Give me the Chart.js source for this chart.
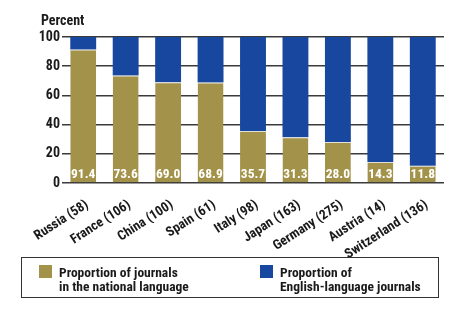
<!DOCTYPE html>
<html>
<head>
<meta charset="utf-8">
<script src="https://cdn.jsdelivr.net/npm/chart.js@4"></script>
<style>
  body { margin: 0; background: #fff; }
  #wrap { position: relative; width: 459px; height: 317px; font-family: Roboto, "DejaVu Sans Condensed", sans-serif; font-stretch: condensed; font-weight: bold; color: #1a1a1a; }
  #unit { position: absolute; left: 41px; top: 12px; font-size: 14px; }
  #legend { position: absolute; left: 21px; top: 257px; width: 416px; height: 39px; border: 1px solid #333; font-size: 13.5px; line-height: 14px; }
  .item { position: absolute; top: 7px; }
  .item .box { position: absolute; left: 0; top: 0; width: 13px; height: 13px; }
  .item .txt { position: absolute; left: 20px; top: 0; white-space: nowrap; }
</style>
</head>
<body>
<div id="wrap">
  <canvas id="myChart" width="459" height="317"></canvas>
  <div id="unit">Percent</div>
  <div id="legend">
    <div class="item" style="left:17px"><div class="box" style="background:#a39249"></div><div class="txt">Proportion of journals<br>in the national language</div></div>
    <div class="item" style="left:238px"><div class="box" style="background:#17479e"></div><div class="txt">Proportion of<br>English-language journals</div></div>
  </div>
</div>
<script>
// countries with number of journals in brackets
var countries = ['Russia (58)', 'France (106)', 'China (100)', 'Spain (61)', 'Italy (98)', 'Japan (163)', 'Germany (275)', 'Austria (14)', 'Switzerland (136)'];
// share of journals in the national language
var nationalShare = [91.4, 73.6, 69.0, 68.9, 35.7, 31.3, 28.0, 14.3, 11.8];
// share of english-language journals
var englishShare = [8.6, 26.4, 31.0, 31.1, 64.3, 68.7, 72.0, 85.7, 88.2];
var yTicks = [0, 20, 40, 60, 80, 100];

var fontFamily = 'Roboto, "DejaVu Sans Condensed", sans-serif';
// chart.js puts weight before size in the font string, so stretch rides along here
var fontWeight = 'condensed bold';

// white value labels at the foot of the gold bars
var valueLabels = {
    id: 'valueLabels',
    afterDatasetsDraw: function(chart) {
        var c = chart.ctx;
        var meta = chart.getDatasetMeta(0);
        var base = chart.scales.y.getPixelForValue(0);
        c.save();
        c.font = fontWeight + ' 13.5px ' + fontFamily;
        c.fillStyle = '#ffffff';
        c.textAlign = 'center';
        c.textBaseline = 'middle';
        meta.data.forEach(function(bar, i) {
            c.fillText(nationalShare[i].toFixed(1), bar.x, base - 8);
        });
        c.restore();
    }
};

var ctx = document.getElementById('myChart').getContext('2d');
var myChart = new Chart(ctx, {
    type: 'bar',
    data: {
        labels: countries,
        datasets: [{
            label: 'Proportion of journals in the national language',
            data: nationalShare,
            backgroundColor: '#a39249',
            borderColor: '#e4e2d6',
            borderWidth: { top: 1, left: 0, right: 0, bottom: 0 },
            borderSkipped: false,
            categoryPercentage: 1,
            barPercentage: 0.61
        }, {
            label: 'Proportion of English-language journals',
            data: englishShare,
            backgroundColor: '#17479e',
            borderWidth: 0,
            categoryPercentage: 1,
            barPercentage: 0.61
        }]
    },
    options: {
        responsive: false,
        animation: false,
        layout: { padding: { top: 37, right: 15, left: 0, bottom: 0 } },
        plugins: {
            legend: { display: false },
            tooltip: { enabled: false }
        },
        scales: {
            x: {
                stacked: true,
                grid: { display: false },
                border: { display: false },
                ticks: {
                    color: '#1a1a1a',
                    autoSkip: false,
                    minRotation: 33,
                    maxRotation: 33,
                    padding: 6,
                    labelOffset: 4,
                    font: { family: fontFamily, size: 13.5, weight: fontWeight }
                },
                afterFit: function(scale) { scale.height = 134; }
            },
            y: {
                stacked: true,
                min: 0,
                max: 100,
                afterBuildTicks: function(scale) {
                    scale.ticks = yTicks.map(function(v) { return { value: v }; });
                },
                grid: { color: '#3a3a3a', lineWidth: 1.5, drawTicks: false },
                border: { display: false },
                ticks: {
                    color: '#1a1a1a',
                    padding: 2,
                    font: { family: fontFamily, size: 14, weight: fontWeight }
                },
                afterFit: function(scale) { scale.width = 62; }
            }
        }
    },
    plugins: [valueLabels]
});
</script>
</body>
</html>
